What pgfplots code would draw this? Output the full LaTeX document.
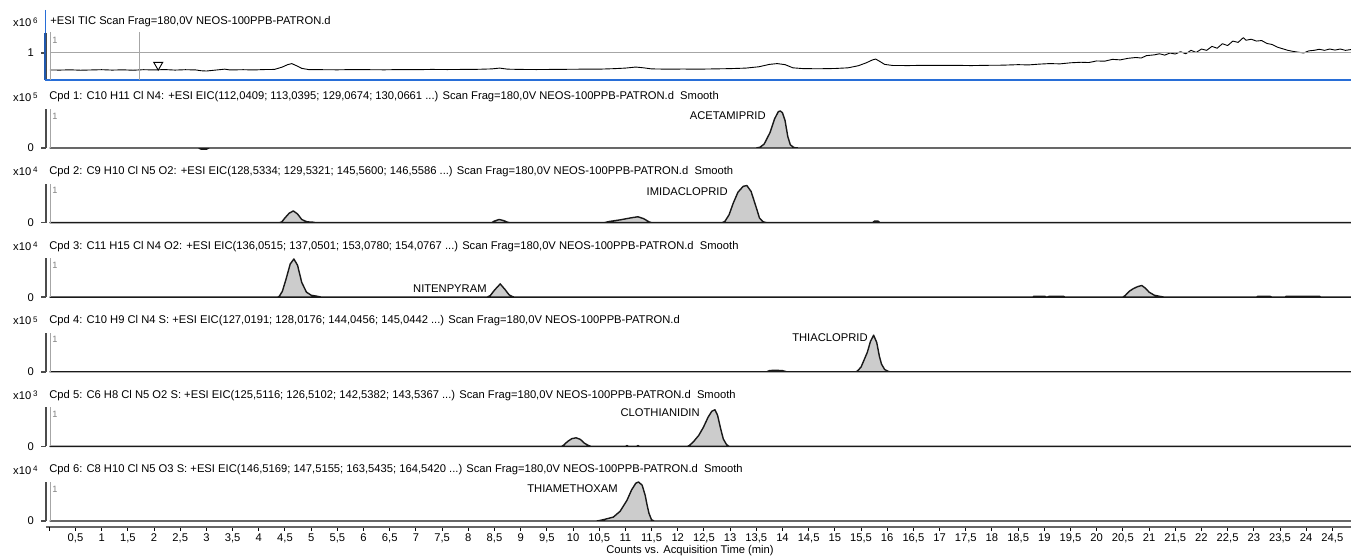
\documentclass[border=0pt]{standalone}
\usepackage{fontspec}
\setmainfont{Liberation Sans}
\usepackage{pgfplots}
\pgfplotsset{compat=1.18}
\newcommand\tf{\fontsize{5.6pt}{6.5pt}\selectfont}
\newcommand\sm{\fontsize{4.6pt}{5pt}\selectfont}
\newcommand\xten[1]{x10\,\raisebox{0.45ex}{\fontsize{4pt}{4pt}\selectfont #1}}
\pgfplotsset{
  panel/.style={x=26.185pt, y=19.5pt, xmin=-0.063, xmax=24.855, ymin=0, ymax=1,
    axis x line=none, axis y line*=left, ytick={0}, tick align=outside,
    major tick length=2.5pt, yticklabel style={font=\tf},
    y axis line style={black!70,line width=0.75pt},
    ytick style={black!70,line width=0.75pt},
    clip=false, anchor=south west,
    /pgf/number format/assume math mode=true},
  trace/.style={black!90, line width=0.7pt, fill=gray!40, line join=round}
}
\begin{document}
\begin{tikzpicture}
\useasboundingbox (0,0) rectangle (675.5pt,278.5pt);
% TIC panel
\begin{axis}[panel, y=13.25pt, ymin=0, ymax=1.75, ytick={1}, at={(23pt,238.75pt)}]
\addplot[black, line width=0.45pt, line join=round] coordinates {
(0.013,0.36)(0.2,0.355)(0.4,0.365)(0.6,0.35)(0.8,0.36)(1.0,0.37)(1.2,0.355)(1.4,0.365)(1.6,0.35)(1.8,0.37)(2.0,0.36)(2.2,0.375)(2.4,0.355)(2.6,0.37)(2.8,0.36)(2.9,0.33)(3.0,0.32)(3.1,0.34)(3.25,0.37)(3.35,0.39)(3.45,0.36)(3.7,0.37)(3.9,0.36)(4.1,0.375)(4.3,0.38)(4.45,0.47)(4.55,0.56)(4.63,0.6)(4.72,0.52)(4.82,0.42)(4.95,0.375)(5.2,0.37)(5.5,0.365)(5.8,0.375)(6.1,0.37)(6.4,0.365)(6.7,0.375)(7.0,0.37)(7.3,0.38)(7.6,0.375)(7.9,0.38)(8.2,0.385)(8.45,0.40)(8.6,0.43)(8.75,0.39)(9.0,0.38)(9.3,0.375)(9.6,0.38)(9.9,0.385)(10.2,0.39)(10.5,0.39)(10.8,0.41)(11.0,0.43)(11.2,0.47)(11.35,0.44)(11.5,0.40)(11.8,0.39)(12.1,0.395)(12.4,0.39)(12.7,0.40)(13.0,0.41)(13.3,0.43)(13.55,0.48)(13.75,0.57)(13.9,0.6)(14.05,0.56)(14.2,0.44)(14.4,0.41)(14.7,0.405)(15.0,0.415)(15.25,0.44)(15.45,0.52)(15.6,0.63)(15.72,0.74)(15.78,0.77)(15.86,0.68)(15.95,0.57)(16.1,0.53)(16.4,0.525)(16.7,0.535)(17.0,0.53)(17.3,0.535)(17.6,0.525)(17.9,0.535)(18.2,0.54)(18.5,0.56)(18.7,0.55)(18.9,0.58)(19.1,0.6)(19.3,0.59)(19.5,0.63)(19.7,0.65)(19.85,0.64)(20.0,0.7)(20.15,0.69)(20.3,0.76)(20.45,0.74)(20.6,0.8)(20.75,0.83)(20.85,0.81)(20.95,0.9)(21.1,0.93)(21.2,0.97)(21.3,0.92)(21.4,1.0)(21.5,0.96)(21.6,1.05)(21.7,0.97)(21.8,1.1)(21.9,1.02)(22.0,1.15)(22.1,1.1)(22.2,1.25)(22.3,1.18)(22.4,1.35)(22.5,1.28)(22.6,1.45)(22.7,1.4)(22.8,1.58)(22.85,1.48)(22.95,1.52)(23.05,1.45)(23.15,1.47)(23.25,1.36)(23.35,1.32)(23.45,1.22)(23.55,1.16)(23.65,1.1)(23.75,1.06)(23.85,1.03)(23.95,1.0)(24.05,1.08)(24.15,1.1)(24.25,1.14)(24.35,1.1)(24.45,1.15)(24.55,1.11)(24.65,1.15)(24.75,1.1)(24.855,1.13)};
\addplot[only marks, mark=triangle, mark size=2.6pt, mark options={rotate=180, fill=white, black, line width=0.45pt}] coordinates {(2.08,0.55)};
\end{axis}
% Cpd 1
\begin{axis}[panel, at={(23pt,204.5pt)}]
\addplot[trace] coordinates {(0.013,0)(2.85,0)(2.9,-0.03)(3.0,-0.03)(3.05,0)(13.5,0)(13.57,0.02)(13.65,0.1)(13.76,0.39)(13.85,0.75)(13.92,0.93)(13.96,0.95)(14.0,0.9)(14.05,0.7)(14.1,0.3)(14.15,0.08)(14.22,0.01)(14.3,0)(24.855,0)} \closedcycle;
\end{axis}
% Cpd 2
\begin{axis}[panel, at={(23pt,167.2pt)}]
\addplot[trace] coordinates {(0.013,0)(4.4,0)(4.44,0.02)(4.5,0.12)(4.58,0.24)(4.66,0.30)(4.74,0.22)(4.82,0.08)(4.92,0.02)(5.04,0.01)(5.08,0)(8.45,0)(8.5,0.04)(8.59,0.08)(8.68,0.05)(8.75,0.01)(8.8,0)(10.6,0)(10.7,0.03)(10.9,0.07)(11.1,0.12)(11.24,0.15)(11.35,0.10)(11.45,0.02)(11.5,0)(12.85,0)(12.9,0.03)(12.98,0.2)(13.06,0.5)(13.15,0.78)(13.25,0.93)(13.32,0.95)(13.4,0.8)(13.46,0.55)(13.51,0.34)(13.56,0.12)(13.63,0.02)(13.7,0)(15.72,0)(15.76,0.04)(15.82,0.04)(15.86,0)(24.855,0)} \closedcycle;
\end{axis}
% Cpd 3
\begin{axis}[panel, at={(23pt,129.9pt)}]
\addplot[trace] coordinates {(0.013,0)(4.36,0)(4.39,0.02)(4.45,0.15)(4.52,0.46)(4.6,0.85)(4.67,0.98)(4.74,0.82)(4.82,0.38)(4.91,0.13)(5.0,0.05)(5.13,0.02)(5.2,0)(8.36,0)(8.42,0.04)(8.5,0.18)(8.61,0.34)(8.7,0.2)(8.78,0.06)(8.85,0.01)(8.9,0)(18.78,0)(18.8,0.025)(19.0,0.025)(19.05,0)(19.1,0.025)(19.36,0.025)(19.4,0)(20.5,0)(20.55,0.05)(20.62,0.15)(20.7,0.22)(20.78,0.27)(20.86,0.30)(20.93,0.23)(21.0,0.13)(21.1,0.05)(21.21,0.02)(21.3,0)(23.05,0)(23.08,0.025)(23.3,0.025)(23.35,0)(23.6,0)(23.62,0.025)(24.25,0.025)(24.28,0)(24.855,0)} \closedcycle;
\end{axis}
% Cpd 4
\begin{axis}[panel, at={(23pt,92.6pt)}]
\addplot[trace] coordinates {(0.013,0)(13.7,0)(13.75,0.03)(13.85,0.04)(14.0,0.03)(14.08,0)(15.4,0)(15.43,0.02)(15.5,0.12)(15.62,0.5)(15.68,0.78)(15.74,0.94)(15.8,0.75)(15.85,0.4)(15.89,0.2)(15.95,0.06)(16.02,0.01)(16.05,0)(24.855,0)} \closedcycle;
\end{axis}
% Cpd 5
\begin{axis}[panel, at={(23pt,55.3pt)}]
\addplot[trace] coordinates {(0.013,0)(9.78,0)(9.82,0.03)(9.9,0.13)(9.98,0.2)(10.06,0.22)(10.14,0.18)(10.22,0.08)(10.3,0.02)(10.35,0)(11.0,0)(11.03,0.02)(11.06,0)(11.21,0)(11.24,0.02)(11.27,0)(12.18,0)(12.22,0.02)(12.3,0.12)(12.4,0.28)(12.49,0.49)(12.58,0.75)(12.65,0.9)(12.71,0.94)(12.76,0.8)(12.82,0.45)(12.87,0.19)(12.93,0.05)(12.98,0)(24.855,0)} \closedcycle;
\end{axis}
% Cpd 6
\begin{axis}[panel, at={(23pt,18pt)}]
\addplot[trace] coordinates {(0.013,0)(10.45,0)(10.5,0.01)(10.6,0.04)(10.77,0.10)(10.9,0.25)(11.03,0.53)(11.12,0.8)(11.2,0.97)(11.25,1.0)(11.32,0.92)(11.38,0.65)(11.41,0.44)(11.45,0.2)(11.5,0.03)(11.55,0)(24.855,0)} \closedcycle;
\end{axis}
% bottom time axis
\begin{axis}[x=26.185pt, y=1pt, xmin=-0.063, xmax=24.855, ymin=0, ymax=1,
  axis y line=none, axis x line*=bottom, anchor=south west, at={(23pt,15pt)},
  xtick={0.5,1,...,24.5}, extra x ticks={0}, extra x tick labels={},
  tick align=outside, major tick length=2pt,
  x axis line style={black!60, line width=0.8pt},
  xtick style={black, line width=0.5pt},
  xticklabel style={font=\tf, inner sep=1pt},
  /pgf/number format/.cd, use comma, assume math mode=true]
\end{axis}
% decorations and text in pixel coordinates
\begin{scope}[x=0.5pt, y=-0.5pt, shift={(0pt,278.5pt)}]
  \definecolor{tblue}{RGB}{40,110,215}
  \draw[tblue, line width=0.5pt] (45,10) -- (45,80);
  \draw[tblue!80!black, line width=1.1pt] (45.3,33) -- (45.3,80);
  \draw[tblue, line width=0.8pt] (45,80) -- (1351,80);
  \draw[gray!70, line width=0.45pt] (50,52.7) -- (1351,52.7);
  \draw[gray!70, line width=0.45pt] (139.5,32) -- (139.5,80);
  \draw[gray!70, line width=0.45pt] (50,32) -- (50,80);
  \node[anchor=west, inner sep=0, gray, font=\sm] at (52,40) {1};
  \node[anchor=west, inner sep=0, font=\tf] at (50,22) {+ESI TIC Scan Frag=180,0V NEOS-100PPB-PATRON.d};
  \node[anchor=east, inner sep=0, font=\tf] at (38,22) {\xten{6}};
  \foreach \z/\e/\t in {
    148/5/{Cpd 1: C10 H11 Cl N4: +ESI EIC(112,0409; 113,0395; 129,0674; 130,0661 ...) Scan Frag=180,0V NEOS-100PPB-PATRON.d\ \ Smooth},
    222.6/4/{Cpd 2: C9 H10 Cl N5 O2: +ESI EIC(128,5334; 129,5321; 145,5600; 146,5586 ...) Scan Frag=180,0V NEOS-100PPB-PATRON.d\ \ Smooth},
    297.2/4/{Cpd 3: C11 H15 Cl N4 O2: +ESI EIC(136,0515; 137,0501; 153,0780; 154,0767 ...) Scan Frag=180,0V NEOS-100PPB-PATRON.d\ \ Smooth},
    371.8/5/{Cpd 4: C10 H9 Cl N4 S: +ESI EIC(127,0191; 128,0176; 144,0456; 145,0442 ...) Scan Frag=180,0V NEOS-100PPB-PATRON.d},
    446.4/3/{Cpd 5: C6 H8 Cl N5 O2 S: +ESI EIC(125,5116; 126,5102; 142,5382; 143,5367 ...) Scan Frag=180,0V NEOS-100PPB-PATRON.d\ \ Smooth},
    521/4/{Cpd 6: C8 H10 Cl N5 O3 S: +ESI EIC(146,5169; 147,5155; 163,5435; 164,5420 ...) Scan Frag=180,0V NEOS-100PPB-PATRON.d\ \ Smooth}} {
    \draw[gray!70, line width=0.45pt] (50,\z) -- (50,\z-39);
    \node[anchor=west, inner sep=0, gray, font=\sm] at (52,\z-32) {1};
    \node[anchor=west, inner sep=0, font=\tf] at (49,\z-51) {\t};
    \node[anchor=east, inner sep=0, font=\tf] at (38,\z-51) {\xten{\e}};
  }
  \node[anchor=east, inner sep=0, font=\tf] at (766,116) {ACETAMIPRID};
  \node[anchor=east, inner sep=0, font=\tf] at (728,192) {IMIDACLOPRID};
  \node[anchor=east, inner sep=0, font=\tf] at (487,289) {NITENPYRAM};
  \node[anchor=east, inner sep=0, font=\tf] at (868,338) {THIACLOPRID};
  \node[anchor=east, inner sep=0, font=\tf] at (700,413) {CLOTHIANIDIN};
  \node[anchor=east, inner sep=0, font=\tf] at (618,489) {THIAMETHOXAM};
  \node[inner sep=0, font=\tf] at (690,551) {Counts vs. Acquisition Time (min)};
\end{scope}
\end{tikzpicture}
\end{document}
